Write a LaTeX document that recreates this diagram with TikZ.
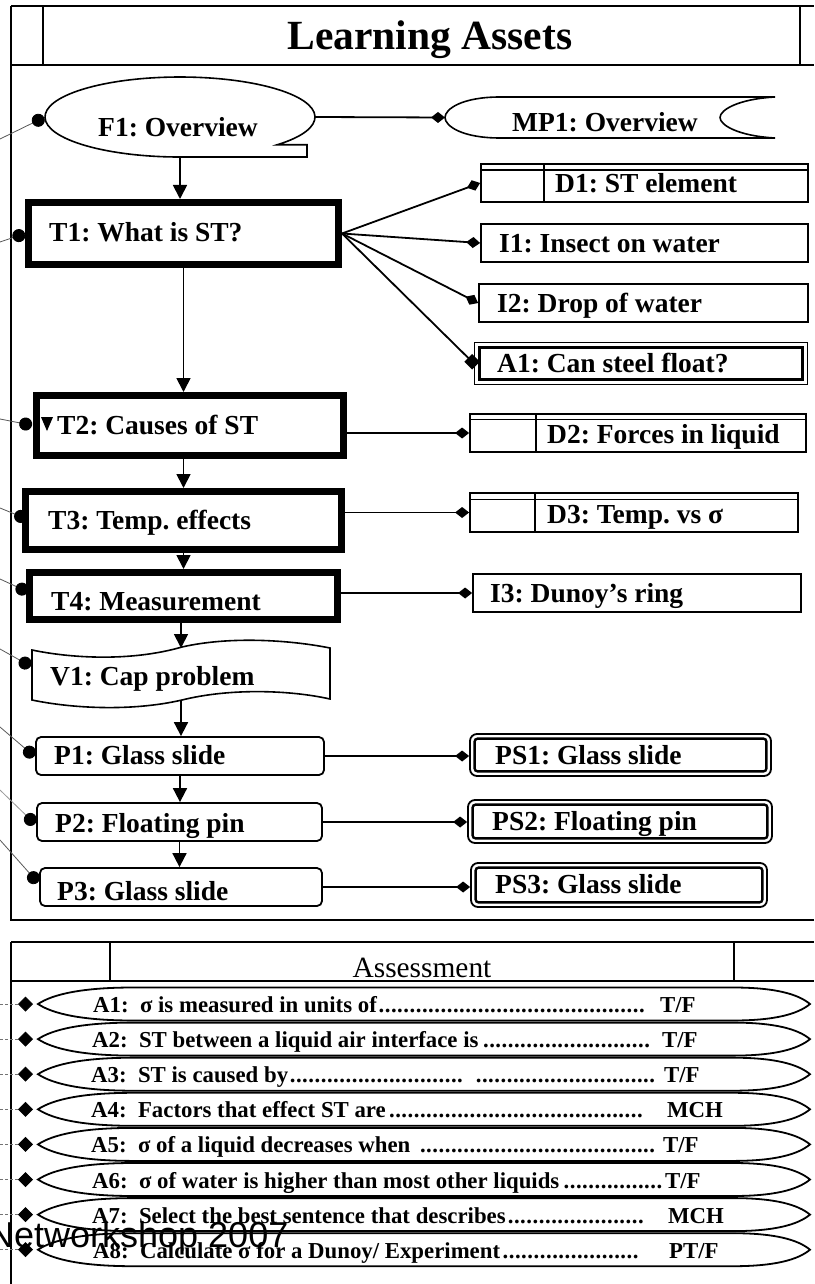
\documentclass[tikz,border=0pt]{standalone}
\usepackage{fontspec}
\setmainfont{Liberation Serif}
\newfontfamily\wmfamily{Liberation Sans}
\usetikzlibrary{arrows.meta,shapes.geometric,calc,backgrounds}
\frenchspacing
\newcommand\lblsize{\fontsize{27.5pt}{30pt}\selectfont\bfseries}
\newcommand\ttlsize{\fontsize{41.5pt}{45pt}\selectfont\bfseries}
\newcommand\qsize{\fontsize{22.8pt}{25pt}\selectfont\bfseries}
\newcommand\hdrsize{\fontsize{29.4pt}{32pt}\selectfont}
\newcommand\wmsize{\fontsize{36pt}{38pt}\selectfont}
\newcommand\dotrow{\leaders\hbox to 6.2pt{\hss.\hss}\hfill}
\newcommand\qshape[1]{%
  \draw[qline] (#1.west) .. controls ($(#1.west)+(15,-10)$) and ($(#1.west)+(45,-16.5)$) .. ($(#1.west)+(95,-16.5)$)
    -- ($(#1.east)+(-77,-16.5)$) .. controls ($(#1.east)+(-35,-16.5)$) and ($(#1.east)+(-12,-10)$) .. (#1.east)
    .. controls ($(#1.east)+(-12,10)$) and ($(#1.east)+(-35,16.5)$) .. ($(#1.east)+(-77,16.5)$)
    -- ($(#1.west)+(95,16.5)$) .. controls ($(#1.west)+(45,16.5)$) and ($(#1.west)+(15,10)$) .. (#1.west) -- cycle;}
\begin{document}
\frenchspacing
\begin{tikzpicture}[x=1pt,y=-1pt,
  frm/.style={line width=2pt},
  shp/.style={draw, line width=1.6pt, fill=white},
  tbox/.style={draw, line width=7pt, fill=white, inner sep=0pt},
  box/.style={draw, line width=1.8pt, fill=white, inner sep=0pt},
  rbox/.style={box, rounded corners=5pt},
  psbox/.style={box, rounded corners=7pt},
  ghost/.style={inner sep=0pt, outer sep=0pt},
  lbl/.style={anchor=base west, inner sep=0pt, font=\lblsize},
  qlbl/.style={anchor=base west, inner sep=0pt, font=\qsize},
  flow/.style={line width=1.8pt, -{Triangle[length=14pt,width=14pt]}},
  link/.style={line width=1.8pt, -{Diamond[length=14pt,width=11pt]}},
  sqlink/.style={line width=1.8pt, -{Square[length=11pt,width=11pt]}, shorten >=-3pt},
  ref/.style={line width=0.8pt, black!65, -{Circle[length=13pt,color=black]}},
  qref/.style={line width=0.8pt, black!55, dash pattern=on 3pt off 2pt, -{Diamond[length=15pt,width=15pt,color=black]}, shorten >=5pt},
  qline/.style={line width=1.8pt},
  strip/.style={line width=1.2pt},
  divider/.style={line width=1.5pt}
]
\useasboundingbox (0,0) rectangle (814,1284);

% ---------- shapes (nodes) ----------
\node[ghost, ellipse, minimum width=270pt, minimum height=80pt] (F1) at (180,117) {};
\draw[shp] (277.1,144.8) arc[start angle=44, end angle=-270, x radius=135, y radius=40] -- (307,157) -- (307,144.8) -- cycle;

\node[ghost, minimum width=330pt, minimum height=41pt] (MP1) at (610,117.5) {};
\draw[shp] (500,97) -- (775,97) .. controls (738,99) and (720,110) .. (720,117.5) .. controls (720,125) and (738,136) .. (775,138)
  -- (500,138) .. controls (462,138) and (445,126) .. (445,117.5) .. controls (445,109) and (462,97) .. (500,97) -- cycle;

\node[tbox, minimum width=310pt, minimum height=62pt] (T1) at (183.5,233.5) {};
\node[tbox, minimum width=307pt, minimum height=60pt] (T2) at (190,425.5) {};
\node[tbox, minimum width=316pt, minimum height=58pt] (T3) at (183.5,520.5) {};
\node[tbox, minimum width=308pt, minimum height=47pt] (T4) at (183.5,596) {};
\fill (41,417) -- (53,417) -- (47,431) -- cycle;

\node[box, minimum width=327pt, minimum height=38pt] (D1) at (644.5,183) {};
\draw[strip] ($(D1.north west)+(0,7)$) -- ($(D1.north east)+(0,7)$);
\draw[divider] ($(D1.north west)+(64,0)$) -- ($(D1.south west)+(64,0)$);
\node[box, minimum width=327pt, minimum height=38pt] (I1) at (644.5,243) {};
\node[box, minimum width=329pt, minimum height=38pt] (I2) at (643.5,303) {};
\node[draw, line width=1.2pt, fill=white, inner sep=0pt, minimum width=333pt, minimum height=42pt] (A1) at (641,363.5) {};
\draw[line width=3pt] ($(A1.north west)+(5.5,5.5)$) rectangle ($(A1.south east)+(-5.5,-5.5)$);

\node[box, minimum width=336pt, minimum height=38pt] (D2) at (638,433) {};
\draw[strip] ($(D2.north west)+(0,6)$) -- ($(D2.north east)+(0,6)$);
\draw[divider] ($(D2.north west)+(67,0)$) -- ($(D2.south west)+(67,0)$);
\node[box, minimum width=328pt, minimum height=39pt] (D3) at (634,512.5) {};
\draw[strip] ($(D3.north west)+(0,7)$) -- ($(D3.north east)+(0,7)$);
\draw[divider] ($(D3.north west)+(66,0)$) -- ($(D3.south west)+(66,0)$);
\node[box, minimum width=328pt, minimum height=38pt] (I3) at (637,593) {};

\node[ghost, minimum width=298pt, minimum height=52pt] (V1) at (181,674) {};
\draw[shp] (32,650) .. controls (70,658) and (130,662) .. (182,647) .. controls (230,636) and (290,640) .. (330,648)
  -- (330,699) .. controls (290,690) and (230,688) .. (182,700) .. controls (130,712) and (70,708) .. (32,700) -- cycle;

\node[rbox, minimum width=288pt, minimum height=38pt] (P1) at (180,756) {};
\node[rbox, minimum width=285pt, minimum height=38pt] (P2) at (179.5,822) {};
\node[rbox, minimum width=282pt, minimum height=38pt] (P3) at (181,887) {};

\node[psbox, minimum width=301pt, minimum height=42pt] (PS1) at (620.5,755) {};
\draw[line width=2.4pt, rounded corners=3pt] ($(PS1.north west)+(5.5,5.5)$) rectangle ($(PS1.south east)+(-5.5,-5.5)$);
\node[psbox, minimum width=304pt, minimum height=43pt] (PS2) at (620,821.5) {};
\draw[line width=2.4pt, rounded corners=3pt] ($(PS2.north west)+(5.5,5.5)$) rectangle ($(PS2.south east)+(-5.5,-5.5)$);
\node[psbox, minimum width=296pt, minimum height=44pt] (PS3) at (619,885) {};
\draw[line width=2.4pt, rounded corners=3pt] ($(PS3.north west)+(5.5,5.5)$) rectangle ($(PS3.south east)+(-5.5,-5.5)$);

% assessment items
\foreach \i/\y in {1/1004,2/1039.1,3/1074.2,4/1109.3,5/1144.4,6/1179.5,7/1214.6,8/1249.7}{
  \node[ghost, minimum width=772pt, minimum height=33pt] (Q\i) at (424,\y) {};
  \coordinate (eQ\i) at (0,\y);
}
\qshape{Q1}\qshape{Q2}\qshape{Q3}\qshape{Q4}\qshape{Q5}\qshape{Q6}\qshape{Q7}\qshape{Q8}

% ---------- background: frames and side references ----------
\begin{scope}[on background layer]
  \fill[white] (0,0) rectangle (814,1284);
  \draw[frm] (11,6) -- (814,6);
  \draw[frm] (11,65) -- (814,65);
  \draw[frm] (814,920) -- (11,920) -- (11,6);
  \draw[frm] (43,6) -- (43,65);
  \draw[frm] (800,6) -- (800,65);
  \draw[frm] (11,942) -- (814,942);
  \draw[frm] (11,981) -- (814,981);
  \draw[frm] (11,942) -- (11,1284);
  \draw[frm] (110,942) -- (110,981);
  \draw[frm] (734,942) -- (734,981);
  \coordinate (eF1) at (0,139);
  \coordinate (eT1) at (0,242);
  \coordinate (eT2) at (0,419);
  \coordinate (eT3) at (0,508);
  \coordinate (eT4) at (0,579);
  \coordinate (eV1) at (0,649);
  \coordinate (eP1) at (0,727);
  \coordinate (eP2) at (0,790);
  \coordinate (eP3) at (0,840);
  \draw[ref, shorten >=1pt] (eF1) -- (F1.west);
  \draw[ref] (eT1) -- (T1.west);
  \draw[ref, shorten >=1pt] (eT2) -- (T2.west);
  \draw[ref, shorten >=-5pt] (eT3) -- ([yshift=3.5pt]T3.west);
  \draw[ref, shorten >=-2pt] (eT4) -- ([yshift=5pt]T4.west);
  \draw[ref, shorten >=1.5pt] (eV1) -- ([yshift=7pt]V1.west);
  \draw[ref, shorten >=1pt] (eP1) -- ([yshift=-1pt]P1.west);
  \draw[ref, black!40, shorten >=1.5pt] (eP2) -- ([yshift=-3pt]P2.west);
  \draw[ref, shorten >=2pt] (eP3) -- ([yshift=3pt]P3.west);
  \foreach \i in {1,...,8}{\draw[qref] (eQ\i) -- (Q\i.west);}
\end{scope}

% ---------- connectors ----------
\draw[flow] (F1.south) -- (F1.south |- T1.north);
\draw[flow] (T1.south) -- (T1.south |- T2.north);
\draw[flow] (T3.north |- T2.south) -- (T3.north);
\draw[flow] (T4.north |- T3.south) -- (T4.north);
\draw[flow] (V1.north |- T4.south) -- (V1.north);
\draw[flow] (V1.south) -- (V1.south |- P1.north);
\draw[flow] (P1.south) -- (P1.south |- P2.north);
\draw[flow] (P2.south) -- (P2.south |- P3.north);

\draw[link] (F1.east) -- (MP1.west);
\draw[link] (T1.east) -- (D1.west);
\draw[link] (T1.east) -- (I1.west);
\draw[link] (T1.east) -- (I2.west);
\draw[sqlink] (T1.east) -- (A1.west);
\draw[link] (D2.west -| T2.east) -- (D2.west);
\draw[link] (D3.west -| T3.east) -- (D3.west);
\draw[link] (I3.west -| T4.east) -- (I3.west);
\draw[link] (P1.east) -- (P1.east -| PS1.west);
\draw[link] (P2.east) -- (P2.east -| PS2.west);
\draw[link] (P3.east) -- (P3.east -| PS3.west);

% ---------- texts ----------
\node[anchor=base, inner sep=0pt, font=\ttlsize] (title) at (430,50) {Learning Assets};
\node[anchor=base, inner sep=0pt, font=\hdrsize] (asshdr) at (422,977) {Assessment};

\node[lbl] (tF1) at (98,137) {F1: Overview};
\node[lbl] (tMP1) at (512,132) {MP1: Overview};
\node[lbl] (tD1) at (555,193) {D1: ST element};
\node[lbl] (tI1) at (499,252) {I1: Insect on water};
\node[lbl] (tI2) at (497,312) {I2: Drop of water};
\node[lbl] (tA1) at (497,372) {A1: Can steel float?};
\node[lbl] (tT1) at (49,241) {T1: What is ST?};
\node[lbl] (tT2) at (57,434) {T2: Causes of ST};
\node[lbl] (tT3) at (48,529) {T3: Temp. effects};
\node[lbl] (tT4) at (51,610) {T4: Measurement};
\node[lbl] (tD2) at (547,443) {D2: Forces in liquid};
\node[lbl] (tD3) at (547,523) {D3: Temp. vs σ};
\node[lbl] (tI3) at (490,602) {I3: Dunoy’s ring};
\node[lbl] (tV1) at (50,685) {V1: Cap problem};
\node[lbl] (tP1) at (54,764) {P1: Glass slide};
\node[lbl] (tP2) at (55,832) {P2: Floating pin};
\node[lbl] (tP3) at (57,900) {P3: Glass slide};
\node[lbl] (tPS1) at (495,764) {PS1: Glass slide};
\node[lbl] (tPS2) at (492,830) {PS2: Floating pin};
\node[lbl] (tPS3) at (495,893) {PS3: Glass slide};

\node[qlbl] (tQ1) at (93,1012.5) {\hbox to 555pt{A1:\ \ σ is measured in units of\dotrow}\hspace{12pt}T/F};
\node[qlbl] (tQ2) at (92,1047.6) {\hbox to 561pt{A2:\ \ ST between a liquid air interface is\dotrow}\hspace{9pt}T/F};
\node[qlbl] (tQ3) at (91,1082.7) {\hbox to 565pt{A3:\ \ ST is caused by\dotrow\ \dotrow}\hspace{8pt}T/F};
\node[qlbl] (tQ4) at (91,1117.8) {\hbox to 557pt{A4:\ \ Factors that effect ST are\dotrow}\hspace{19pt}MCH};
\node[qlbl] (tQ5) at (91,1152.9) {\hbox to 566pt{A5:\ \ σ of a liquid decreases when \dotrow}\hspace{6pt}T/F};
\node[qlbl] (tQ6) at (92,1188) {\hbox to 571pt{A6:\ \ σ of water is higher than most other liquids\dotrow}\hspace{2pt}T/F};
\node[qlbl] (tQ7) at (92,1223.1) {\hbox to 556pt{A7:\ \ Select the best sentence that describes\dotrow}\hspace{20pt}MCH};
\node[qlbl] (tQ8) at (93,1258.2) {\hbox to 547pt{A8:\ \ Calculate σ for a Dunoy/ Experiment\dotrow}\hspace{29pt}PT/F};

\node[anchor=base west, inner sep=0pt, font=\wmfamily\wmsize] (wm) at (-12,1247) {Networkshop 2007};
\end{tikzpicture}
\end{document}
